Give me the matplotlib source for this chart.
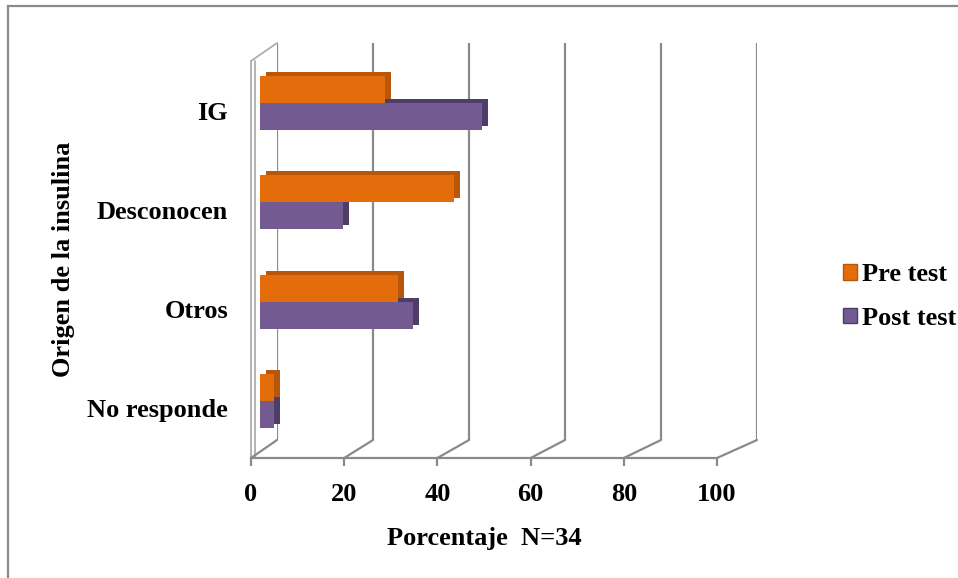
import numpy as np
import matplotlib
matplotlib.use("Agg")
import matplotlib.pyplot as plt
from matplotlib.patches import ConnectionPatch, Patch
from matplotlib.lines import Line2D
from matplotlib.transforms import ScaledTranslation, offset_copy

# datos (porcentaje, N=34)
categories = ["No responde", "Otros", "Desconocen", "IG"]
pre_test = [2.9, 29.4, 41.2, 26.5]
post_test = [2.9, 32.4, 17.6, 47.1]
xticks = [0, 20, 40, 60, 80, 100]

plt.rcParams["font.family"] = ["Liberation Serif", "DejaVu Serif"]
plt.rcParams["font.weight"] = "bold"

W, H = 958, 578
fs = 19
grid_c = "#8a8a8a"
wall_c = "#a8a8a8"
orange, orange_dk = "#e46c0a", "#b8560a"
purple, purple_dk = "#735a91", "#4f3d69"


def box(l, t, r, b):
    # pixel box -> figure fraction
    return [l / W, 1 - b / H, (r - l) / W, (b - t) / H]


fig = plt.figure(figsize=(W / 100, H / 100), dpi=100)

# pared del fondo
ax_back = fig.add_axes(box(277, 43, 757, 440))
ax_back.set_xlim(0, 100)
ax_back.set_ylim(0, 1)
ax_back.axis("off")
for x in xticks:
    ax_back.axvline(x, color=grid_c, lw=1.6)

# plano frontal (ejes)
ax = fig.add_axes(box(251, 61, 717, 458))
ax.patch.set_alpha(0)
ax.set_xlim(0, 100)
ax.set_ylim(-0.5, 3.5)
for s in ["top", "right"]:
    ax.spines[s].set_visible(False)
ax.spines["bottom"].set_color(grid_c)
ax.spines["bottom"].set_linewidth(1.6)
ax.spines["left"].set_color(wall_c)
ax.spines["left"].set_linewidth(1.2)
ax.set_xticks(xticks)
ax.set_yticks(range(len(categories)), categories)
ax.tick_params(axis="x", length=6, width=1.6, color=grid_c, pad=12, labelsize=fs)
ax.tick_params(axis="y", length=0, pad=16.5, labelsize=fs)
ax.set_xlabel("Porcentaje  N=34", fontsize=fs, fontweight="bold")
ax.xaxis.set_label_coords(0.5, -(538 - 458) / 397)
ax.xaxis.label.set_va("center")
ax.set_ylabel("Origen de la insulina", fontsize=fs, fontweight="bold")
ax.yaxis.set_label_coords(-(251 - 63) / 466, 0.5)
ax.yaxis.label.set_va("center")

# grosor de la pared izquierda
ax.plot([0, 0], [-0.5, 3.5], color=wall_c, lw=1.2, clip_on=False,
        transform=offset_copy(ax.transData, fig, x=4, y=0, units="dots"))
fig.add_artist(ConnectionPatch((0, 3.5), (0, 1), "data", "data", axesA=ax,
                               axesB=ax_back, color=wall_c, lw=1.2))

# lineas del piso
for x in xticks:
    fig.add_artist(ConnectionPatch((x, -0.5), (x, 0), "data", "data", axesA=ax,
                                   axesB=ax_back, color=grid_c, lw=1.6))

# barras
ax_bars = fig.add_axes(box(260, 53, 731, 451))
ax_bars.patch.set_alpha(0)
ax_bars.set_xlim(0, 100)
ax_bars.set_ylim(-0.5, 3.5)
ax_bars.axis("off")

y = np.arange(len(categories))
h = 0.27
depth = ax_bars.transData + ScaledTranslation(6 / 100, 4 / 100, fig.dpi_scale_trans)
ax_bars.barh(y + h / 2, pre_test, h, color=orange_dk, transform=depth)
ax_bars.barh(y - h / 2, post_test, h, color=purple_dk, transform=depth)
ax_bars.barh(y + h / 2, pre_test, h, color=orange)
ax_bars.barh(y - h / 2, post_test, h, color=purple)

# leyenda
handles = [Patch(facecolor=orange, edgecolor=orange_dk),
           Patch(facecolor=purple, edgecolor=purple_dk)]
fig.legend(handles, ["Pre test", "Post test"], loc="center left",
           bbox_to_anchor=(843 / W, 1 - 296.5 / H), frameon=False,
           fontsize=fs, handlelength=0.53, handleheight=0.53,
           handletextpad=0.2, labelspacing=0.78, borderpad=0, borderaxespad=0)

# marco del grafico
fig.add_artist(Line2D([8 / W, 8 / W], [0, 1 - 6 / H], color=grid_c, lw=1.6))
fig.add_artist(Line2D([8 / W, 1], [1 - 6 / H, 1 - 6 / H], color=grid_c, lw=1.6))

fig.savefig("out.png", dpi=100)
